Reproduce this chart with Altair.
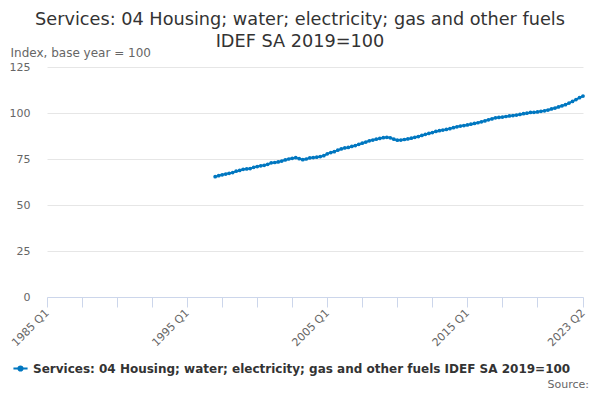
import altair as alt
import pandas as pd

series_name = "Services: 04 Housing; water; electricity; gas and other fuels IDEF SA 2019=100"
start_year = 1997
values = [
    65.4, 65.9, 66.4, 66.8,   # 1997
    67.2, 67.6, 68.4, 68.8,   # 1998
    69.4, 69.6, 69.8, 70.5,   # 1999
    70.9, 71.3, 71.6, 72.1,   # 2000
    72.9, 73.1, 73.4, 73.9,   # 2001
    74.5, 75.0, 75.4, 75.7,   # 2002
    75.2, 74.6, 75.0, 75.6,   # 2003
    75.8, 76.0, 76.3, 76.8,   # 2004
    77.8, 78.5, 79.0, 79.8,   # 2005
    80.5, 81.0, 81.3, 81.8,   # 2006
    82.3, 83.0, 83.6, 84.2,   # 2007
    84.9, 85.3, 85.8, 86.2,   # 2008
    86.6, 86.8, 86.5, 85.8,   # 2009
    85.2, 85.3, 85.6, 85.9,   # 2010
    86.3, 86.8, 87.2, 87.8,   # 2011
    88.4, 88.9, 89.4, 90.0,   # 2012
    90.4, 90.7, 91.1, 91.5,   # 2013
    92.0, 92.5, 92.9, 93.2,   # 2014
    93.5, 93.9, 94.3, 94.7,   # 2015
    95.2, 95.7, 96.3, 96.8,   # 2016
    97.4, 97.6, 97.8, 98.1,   # 2017
    98.4, 98.6, 98.9, 99.2,   # 2018
    99.6, 99.9, 100.3, 100.4, # 2019
    100.6, 100.9, 101.2, 101.6,  # 2020
    102.2, 102.7, 103.3, 103.9,  # 2021
    104.5, 105.4, 106.3, 107.3,  # 2022
    108.3, 109.2,             # 2023
]

# quarter index relative to 1985 Q1
axis_start_year = 1985
first_idx = (start_year - axis_start_year) * 4
qidx = list(range(first_idx, first_idx + len(values)))
labels = [f"{axis_start_year + q // 4} Q{q % 4 + 1}" for q in qidx]
last_idx = qidx[-1]

df = pd.DataFrame({"q": qidx, "value": values, "label": labels, "series": series_name})

tick_values = list(range(0, 141, 10)) + [last_idx]
label_expr = (
    f"(datum.value % 40 == 0 || datum.value == {last_idx}) ? "
    f"(toString({axis_start_year} + floor(datum.value / 4)) + ' Q' + toString(datum.value % 4 + 1)) : ''"
)

blue = "#0077c0"

line = alt.Chart(df).mark_line(
    strokeWidth=2,
    point=alt.OverlayMarkDef(size=14, filled=True, opacity=1),
).encode(
    x=alt.X(
        "q:Q",
        scale=alt.Scale(domain=[0, last_idx], nice=False, zero=False),
        axis=alt.Axis(
            title=None,
            values=tick_values,
            labelExpr=label_expr,
            labelAngle=-45,
            labelAlign="right",
            labelBaseline="middle",
            labelPadding=4,
            labelFontSize=11,
            labelColor="#666666",
            grid=False,
            domainColor="#ccd6eb",
            tickColor="#ccd6eb",
            tickSize=10,
            labelOverlap=False,
            labelFlush=False,
        ),
    ),
    y=alt.Y(
        "value:Q",
        scale=alt.Scale(domain=[0, 125], nice=False),
        axis=alt.Axis(
            title="Index, base year = 100",
            titleAngle=0,
            titleAlign="left",
            titleBaseline="middle",
            titleX=-37,
            titleY=-15,
            titleFontSize=12,
            titleFontWeight="normal",
            titleColor="#666666",
            values=[0, 25, 50, 75, 100, 125],
            labelFontSize=11,
            labelColor="#666666",
            labelPadding=17,
            domain=False,
            ticks=False,
            gridColor="#e6e6e6",
        ),
    ),
    color=alt.Color(
        "series:N",
        scale=alt.Scale(range=[blue]),
        legend=alt.Legend(
            title=None,
            orient="none",
            legendX=-35,
            legendY=293,
            symbolType="M-1,0L1,0M-0.3,0A0.3,0.3 0 1,1 0.3,0A0.3,0.3 0 1,1 -0.3,0",
            symbolSize=200,
            symbolStrokeWidth=2,
            symbolFillColor=blue,
            symbolStrokeColor=blue,
            labelFontSize=12,
            labelFontWeight="bold",
            labelColor="#333333",
            labelLimit=0,
        ),
    ),
)

source = alt.Chart(pd.DataFrame({"t": ["Source:"]})).mark_text(
    align="right", baseline="middle", fontSize=11, color="#666666"
).encode(x=alt.value(542), y=alt.value(318), text="t:N")

chart = alt.layer(line, source).properties(
    width=536,
    height=230,
    autosize=alt.AutoSizeParams(type="none"),
    padding={"left": 39, "top": 59, "right": 9, "bottom": 95},
    title=alt.Title(
        ["Services: 04 Housing; water; electricity; gas and other fuels", "IDEF SA 2019=100"],
        fontSize=17.7,
        fontWeight="normal",
        color="#333333",
        anchor="middle",
        frame="group",
        dx=-15,
        lineHeight=22,
        offset=-5,
    ),
).configure(font="DejaVu Sans").configure_view(stroke=None)

chart.save("out.html", embed_options={"renderer": "svg", "actions": False})
